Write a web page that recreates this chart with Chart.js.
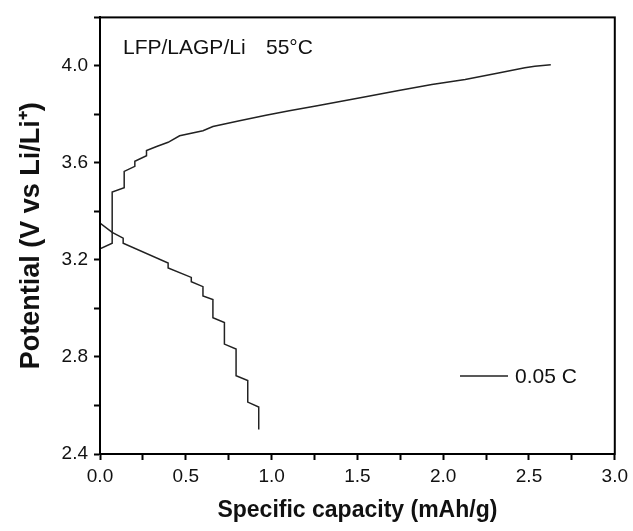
<!DOCTYPE html>
<html>
<head>
<meta charset="utf-8">
<script src="https://cdn.jsdelivr.net/npm/chart.js@4"></script>
<style>
  html, body { margin: 0; padding: 0; background: #fff; }
  #wrap { width: 633px; height: 531px; position: relative; }
</style>
</head>
<body>
<div id="wrap"><canvas id="capChart"></canvas></div>
<script>
// charge curve (capacity mAh/g, potential V)
const chargeCap = [0, 0.071, 0.071, 0.141, 0.141, 0.203, 0.203, 0.271, 0.271, 0.33, 0.397, 0.464, 0.6, 0.658, 0.813, 0.967, 1.103, 1.258, 1.548, 1.741, 1.934, 2.128, 2.322, 2.476, 2.534, 2.627];
const chargeV = [3.246, 3.269, 3.480, 3.498, 3.565, 3.586, 3.607, 3.630, 3.651, 3.668, 3.685, 3.712, 3.733, 3.750, 3.774, 3.797, 3.815, 3.835, 3.873, 3.899, 3.923, 3.944, 3.971, 3.992, 3.999, 4.005];

// discharge curve
const dischargeCap = [0, 0.071, 0.135, 0.135, 0.397, 0.397, 0.532, 0.532, 0.6, 0.6, 0.658, 0.658, 0.725, 0.725, 0.793, 0.793, 0.861, 0.861, 0.925, 0.925];
const dischargeV = [3.352, 3.314, 3.290, 3.269, 3.187, 3.167, 3.128, 3.110, 3.090, 3.052, 3.037, 2.962, 2.942, 2.853, 2.833, 2.723, 2.703, 2.614, 2.594, 2.501];

const xLabels = [0.0, 0.5, 1.0, 1.5, 2.0, 2.5, 3.0];
const yLabels = [2.4, 2.8, 3.2, 3.6, 4.0];
const seriesName = '0.05 C';
const cellNote = 'LFP/LAGP/Li';
const tempNote = '55°C';

const FONT = 'Arial, "Liberation Sans", sans-serif';

function toPoints(xs, ys) {
    return xs.map((x, i) => ({ x: x, y: ys[i] }));
}

function isLabelled(list, v) {
    return list.some(l => Math.abs(l - v) < 1e-6);
}

// box border + notes + legend drawn over the plot
const overlay = {
    id: 'overlay',
    afterDraw(chart) {
        const { ctx, chartArea: a } = chart;
        ctx.save();
        ctx.strokeStyle = '#000';
        ctx.lineWidth = 2;
        ctx.strokeRect(a.left, a.top, a.right - a.left, a.bottom - a.top);

        ctx.fillStyle = '#111';
        ctx.font = '21px ' + FONT;
        ctx.textBaseline = 'middle';
        ctx.fillText(cellNote, 123, 48);
        ctx.fillText(tempNote, 266, 48);

        // legend
        ctx.strokeStyle = '#222';
        ctx.lineWidth = 1.5;
        ctx.beginPath();
        ctx.moveTo(460, 376);
        ctx.lineTo(508, 376);
        ctx.stroke();
        ctx.fillText(seriesName, 515, 377);
        ctx.restore();
    }
};

const ctx = document.getElementById('capChart').getContext('2d');
new Chart(ctx, {
    type: 'scatter',
    data: {
        datasets: [{
            label: seriesName,
            data: toPoints(chargeCap, chargeV),
            showLine: true,
            borderColor: '#222',
            borderWidth: 1.5,
            pointRadius: 0,
            tension: 0
        }, {
            label: seriesName + ' discharge',
            data: toPoints(dischargeCap, dischargeV),
            showLine: true,
            borderColor: '#222',
            borderWidth: 1.5,
            pointRadius: 0,
            tension: 0
        }]
    },
    options: {
        responsive: true,
        maintainAspectRatio: false,
        animation: false,
        layout: { padding: { left: 0, top: 14, right: 16, bottom: 0 } },
        plugins: {
            legend: { display: false },
            tooltip: { enabled: false }
        },
        scales: {
            x: {
                type: 'linear',
                min: 0,
                max: 3,
                afterFit(scale) { scale.height = 77; },
                afterBuildTicks(scale) {
                    const t = [];
                    for (let i = 0; i <= 12; i++) t.push({ value: i * 0.25 });
                    scale.ticks = t;
                },
                ticks: {
                    autoSkip: false,
                    maxRotation: 0,
                    padding: 5,
                    color: '#111',
                    font: { family: FONT, size: 19 },
                    callback: v => isLabelled(xLabels, v) ? v.toFixed(1) : ''
                },
                grid: {
                    drawOnChartArea: false,
                    drawTicks: true,
                    tickLength: 6,
                    tickWidth: 2,
                    tickColor: '#000'
                },
                border: { color: '#000', width: 2 },
                title: {
                    display: true,
                    text: 'Specific capacity (mAh/g)',
                    color: '#111',
                    font: { family: FONT, size: 23, weight: 'bold', lineHeight: 1.2 },
                    padding: { top: 0, bottom: 7 }
                }
            },
            y: {
                type: 'linear',
                min: 2.4,
                max: 4.2,
                afterFit(scale) { scale.width = 100; },
                afterBuildTicks(scale) {
                    const t = [];
                    for (let i = 0; i <= 9; i++) t.push({ value: 2.4 + i * 0.2 });
                    scale.ticks = t;
                },
                ticks: {
                    autoSkip: false,
                    padding: 6,
                    color: '#111',
                    font: { family: FONT, size: 19 },
                    callback: v => isLabelled(yLabels, v) ? v.toFixed(1) : ''
                },
                grid: {
                    drawOnChartArea: false,
                    drawTicks: true,
                    tickLength: 6,
                    tickWidth: 2,
                    tickColor: '#000'
                },
                border: { color: '#000', width: 2 },
                title: {
                    display: true,
                    text: 'Potential (V vs Li/Li⁺)',
                    color: '#111',
                    font: { family: FONT, size: 27, weight: 'bold', lineHeight: 1.2 },
                    padding: { top: 15, bottom: 0 }
                }
            }
        }
    },
    plugins: [overlay]
});
</script>
</body>
</html>
